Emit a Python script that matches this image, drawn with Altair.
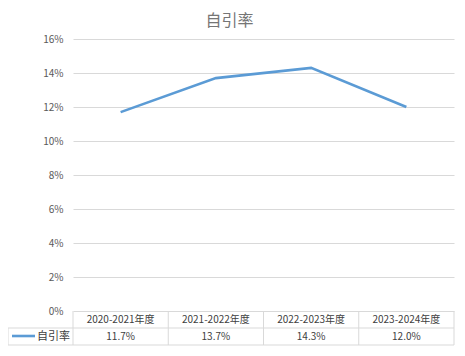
import altair as alt
import pandas as pd

categories = ["2020-2021年度", "2021-2022年度", "2022-2023年度", "2023-2024年度"]
values = [0.117, 0.137, 0.143, 0.120]
series_name = "自引率"
title_text = "自引率"

W, H = 381, 306
FONT = "Noto Sans CJK SC"
GRID = "#d9d9d9"
BLUE = "#5B9BD5"
TXT = "#404040"

df = pd.DataFrame({"cat": categories, "val": values})
df["label"] = [f"{v*100:.1f}%" for v in values]
bounds = pd.DataFrame({"b": list(range(len(categories) + 1))})
legend_df = pd.DataFrame({"name": [series_name]})

xcat = alt.X("cat:N", sort=categories, axis=None,
             scale=alt.Scale(type="point", padding=0.5))

line = alt.Chart(df).mark_line(color=BLUE, strokeWidth=2.6).encode(
    x=xcat,
    y=alt.Y("val:Q",
            scale=alt.Scale(domain=[0, 0.16], range=[272, 0], nice=False),
            axis=alt.Axis(format=".0%", values=[0, 0.02, 0.04, 0.06, 0.08, 0.10, 0.12, 0.14, 0.16],
                          title=None, grid=True, gridColor=GRID, domain=False, ticks=False,
                          labelPadding=10, labelFont=FONT, labelFontSize=10,
                          labelColor="#595959")),
)

header = alt.Chart(df).mark_text(font=FONT, fontSize=10, color=TXT, baseline="middle").encode(
    x=xcat, y=alt.value(281), text="cat:N"
)
datarow = alt.Chart(df).mark_text(font=FONT, fontSize=10, color=TXT, baseline="middle").encode(
    x=xcat, y=alt.value(298), text="label:N"
)

vrules = alt.Chart(bounds).mark_rule(color=GRID, strokeWidth=1).encode(
    x=alt.X("b:Q", axis=None, scale=alt.Scale(domain=[0, len(categories)], nice=False)),
    y=alt.value(272), y2=alt.value(H),
)

hrule_mid = alt.Chart(legend_df).mark_rule(color=GRID, strokeWidth=1).encode(
    x=alt.value(-65), x2=alt.value(W), y=alt.value(289)
)
hrule_bot = alt.Chart(legend_df).mark_rule(color=GRID, strokeWidth=1).encode(
    x=alt.value(-65), x2=alt.value(W), y=alt.value(H)
)
lrule = alt.Chart(legend_df).mark_rule(color=GRID, strokeWidth=1).encode(
    x=alt.value(-65), y=alt.value(289), y2=alt.value(H)
)
legend_line = alt.Chart(legend_df).mark_rule(color=BLUE, strokeWidth=2.6).encode(
    x=alt.value(-61), x2=alt.value(-38), y=alt.value(297)
)
legend_text = alt.Chart(legend_df).mark_text(font=FONT, fontSize=11, color=TXT,
                                             align="left", baseline="middle").encode(
    x=alt.value(-36), y=alt.value(298), text="name:N"
)

chart = alt.layer(
    vrules, hrule_mid, hrule_bot, lrule, line, header, datarow, legend_line, legend_text
).resolve_scale(x="independent").properties(
    width=W, height=H,
    title=alt.TitleParams(title_text, font=FONT, fontSize=16, color="#757575",
                          fontWeight="normal", anchor="middle", dx=-34, offset=5),
    autosize=alt.AutoSizeParams(type="none"),
    padding={"left": 65, "top": 31, "right": 2, "bottom": 1},
).configure_view(stroke=None)

chart.save("out.html", embed_options={"renderer": "svg", "actions": False})
